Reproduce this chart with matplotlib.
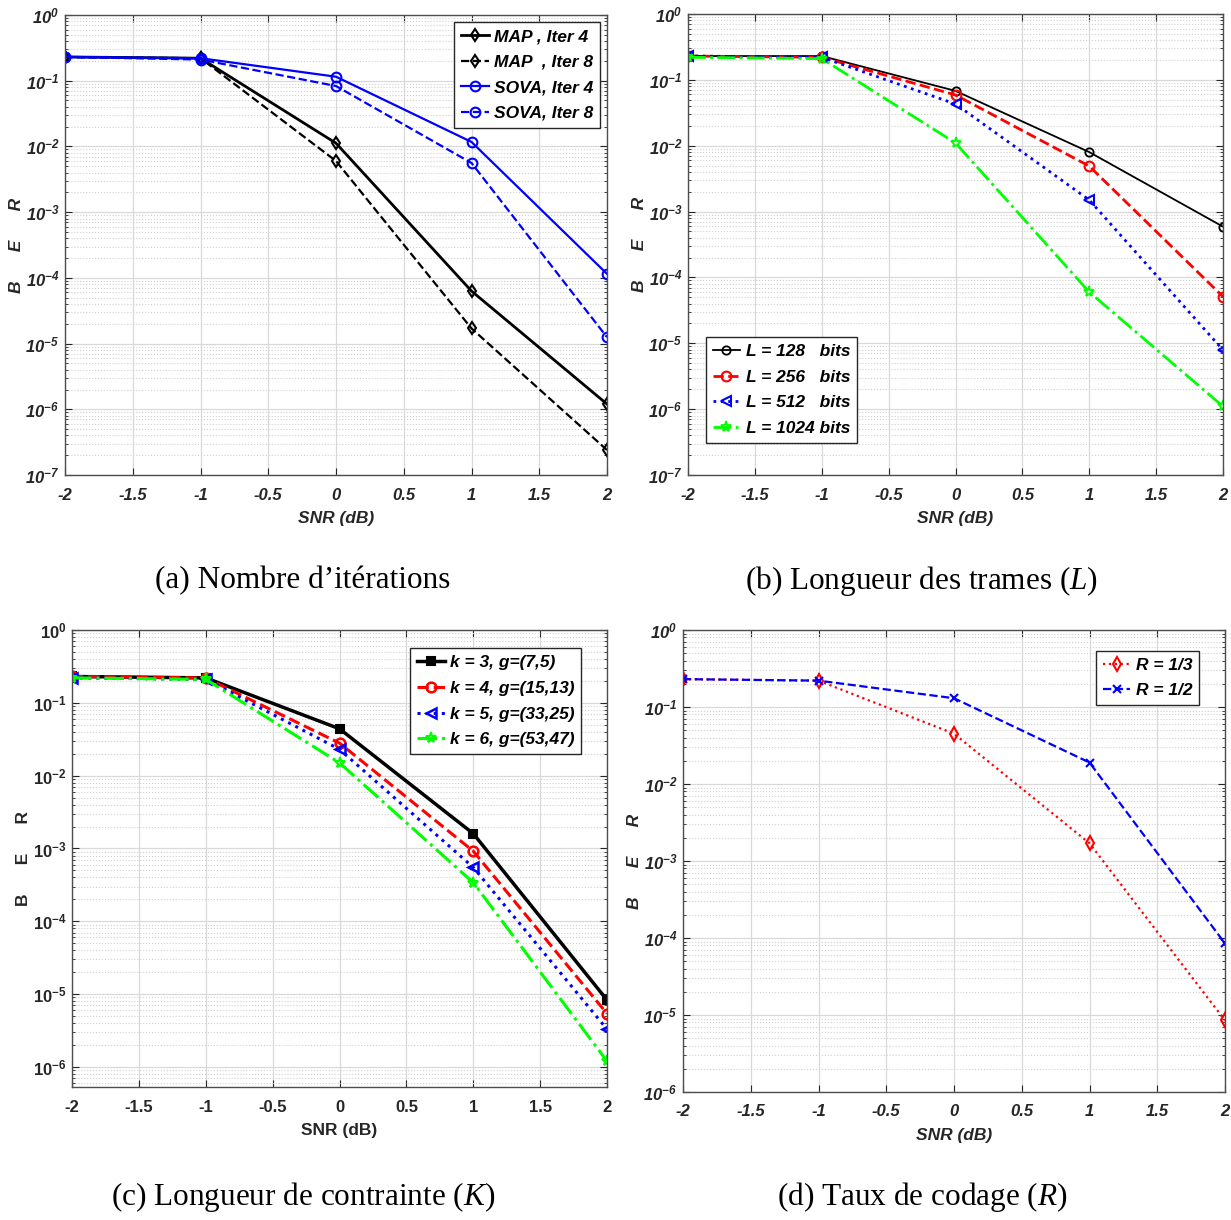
import numpy as np
import matplotlib.pyplot as plt
from matplotlib.ticker import FuncFormatter, FixedLocator, NullFormatter
from matplotlib.font_manager import FontProperties

# Réglages des polices
plt.rcParams['font.family'] = ['Liberation Sans', 'DejaVu Sans']
plt.rcParams['mathtext.fontset'] = 'custom'
plt.rcParams['mathtext.bf'] = 'Liberation Sans:bold'
plt.rcParams['mathtext.bfit'] = 'Liberation Sans:italic:bold'
plt.rcParams['mathtext.it'] = 'Liberation Serif:italic'
plt.rcParams['mathtext.rm'] = 'Liberation Serif'

# ---------------------------------------------------------------------------
# Données
snr = [-2, -1, 0, 1, 2]

# (a) Nombre d'itérations
ber_map_it4 = [0.23, 0.22, 1.12e-2, 6.3e-5, 1.2e-6]
ber_map_it8 = [0.23, 0.22, 6.0e-3, 1.7e-5, 2.4e-7]
ber_sova_it4 = [0.23, 0.22, 0.115, 1.17e-2, 1.15e-4]
ber_sova_it8 = [0.23, 0.21, 0.083, 5.6e-3, 1.25e-5]
labels_a = ['MAP , Iter 4', 'MAP  , Iter 8', 'SOVA, Iter 4', 'SOVA, Iter 8']

# (b) Longueur des trames
ber_l128 = [0.23, 0.23, 0.068, 8.0e-3, 5.9e-4]
ber_l256 = [0.23, 0.22, 0.059, 4.9e-3, 5.1e-5]
ber_l512 = [0.23, 0.22, 0.043, 1.5e-3, 7.9e-6]
ber_l1024 = [0.22, 0.21, 0.011, 6.0e-5, 1.1e-6]
labels_b = ['L = 128   bits', 'L = 256   bits', 'L = 512   bits', 'L = 1024 bits']

# (c) Longueur de contrainte
ber_k3 = [0.23, 0.22, 0.044, 1.6e-3, 8.3e-6]
ber_k4 = [0.23, 0.22, 0.028, 9.2e-4, 5.4e-6]
ber_k5 = [0.22, 0.21, 0.023, 5.5e-4, 3.3e-6]
ber_k6 = [0.22, 0.21, 0.015, 3.4e-4, 1.2e-6]
labels_c = ['k = 3, g=(7,5)', 'k = 4, g=(15,13)', 'k = 5, g=(33,25)', 'k = 6, g=(53,47)']

# (d) Taux de codage
ber_r13 = [0.23, 0.22, 0.045, 1.7e-3, 8.5e-6]
ber_r12 = [0.23, 0.22, 0.13, 0.019, 8.5e-5]
labels_d = ['R = 1/3', 'R = 1/2']

captions = ["(a) Nombre d\u2019itérations", "(b) Longueur des trames ($L$)",
            "(c) Longueur de contrainte ($K$)", "(d) Taux de codage ($R$)"]
# ---------------------------------------------------------------------------

W, H = 1231, 1220
fig = plt.figure(figsize=(W / 100, H / 100), dpi=100)


def px_axes(left, top, right, bottom):
    return fig.add_axes([left / W, 1 - bottom / H, (right - left) / W, (bottom - top) / H])


txt_col = '#262626'


def style(ax, ylim, italic=True):
    ax.set_yscale('log')
    ax.set_xlim(-2, 2)
    ax.set_ylim(*ylim)
    ax.set_xticks(np.arange(-2, 2.01, 0.5))
    ax.set_xticklabels([f'{v:g}' for v in np.arange(-2, 2.01, 0.5)])
    # seulement les décades visibles
    lo = int(np.ceil(np.log10(ylim[0]) - 1e-9))
    dec = np.arange(lo, 1)
    ax.yaxis.set_major_locator(FixedLocator(10.0 ** dec))
    minors = [m * 10.0 ** d for d in range(lo - 1, 0) for m in range(2, 10)
              if ylim[0] <= m * 10.0 ** d <= ylim[1]]
    ax.yaxis.set_minor_locator(FixedLocator(minors))
    ax.yaxis.set_minor_formatter(NullFormatter())
    cmd = r'\mathbfit' if italic else r'\mathbf'
    ax.yaxis.set_major_formatter(FuncFormatter(
        lambda v, p: r'$%s{10^{%d}}$' % (cmd, int(round(np.log10(v))))))
    st = 'italic' if italic else 'normal'
    for lab in ax.get_xticklabels():
        lab.set_fontweight('bold')
        lab.set_fontstyle(st)
    ax.tick_params(axis='both', which='both', direction='in', top=True, right=True,
                   colors=txt_col, labelsize=12)
    ax.tick_params(axis='x', pad=9)
    ax.tick_params(axis='y', pad=4)
    ax.tick_params(which='major', length=5)
    ax.tick_params(which='minor', length=2.5)
    ax.grid(True, which='major', color='#d9d9d9', linewidth=0.9)
    ax.grid(True, which='minor', axis='y', color='#d0d0d0', linestyle=':', linewidth=0.8)
    ax.set_axisbelow(True)
    for s in ax.spines.values():
        s.set_color('#4d4d4d')
        s.set_linewidth(1.0)
    ax.set_xlabel('SNR (dB)', fontsize=12.5, fontweight='bold', fontstyle=st, color=txt_col, labelpad=6)
    ax.set_ylabel('B      E      R', fontsize=12.5, fontweight='bold', fontstyle=st, color=txt_col, labelpad=1)


def legend(ax, loc, anchor=None):
    prop = FontProperties(family='Liberation Sans', weight='bold', style='italic', size=12.5)
    kw = dict(loc=loc, prop=prop, fancybox=False, edgecolor=txt_col, framealpha=1,
              handlelength=1.6, handletextpad=0.3, borderpad=0.4, labelspacing=0.6,
              borderaxespad=0.4)
    if anchor is not None:
        kw['bbox_to_anchor'] = anchor
    leg = ax.legend(**kw)
    leg.get_frame().set_linewidth(1.0)
    for t in leg.get_texts():
        t.set_color('black')


# (a)
ax = px_axes(65, 15, 607, 475)
ax.plot(snr, ber_map_it4, color='black', linestyle='-', linewidth=2, marker='d', mfc='none', ms=6, mew=1.5, label=labels_a[0])
ax.plot(snr, ber_map_it8, color='black', linestyle='--', linewidth=1.6, marker='d', mfc='none', ms=6, mew=1.5, label=labels_a[1])
ax.plot(snr, ber_sova_it4, color='blue', linestyle='-', linewidth=1.6, marker='o', mfc='none', ms=7, mew=1.5, label=labels_a[2])
ax.plot(snr, ber_sova_it8, color='blue', linestyle='--', linewidth=1.6, marker='o', mfc='none', ms=7, mew=1.5, label=labels_a[3])
style(ax, (1e-7, 1))
legend(ax, 'upper right')

# (b)
ax = px_axes(688, 14, 1223, 475)
ax.plot(snr, ber_l128, color='black', linestyle='-', linewidth=1.3, marker='o', mfc='none', ms=6, mew=1.3, label=labels_b[0])
ax.plot(snr, ber_l256, color='red', linestyle='--', linewidth=2, marker='o', mfc='none', ms=7, mew=1.5, label=labels_b[1])
ax.plot(snr, ber_l512, color='blue', linestyle=':', linewidth=2, marker='<', mfc='none', ms=7, mew=1.5, label=labels_b[2])
ax.plot(snr, ber_l1024, color='#00ff00', linestyle='-.', linewidth=2, marker='*', mfc='none', ms=8, mew=1.3, label=labels_b[3])
style(ax, (1e-7, 1))
legend(ax, 'lower left', anchor=(0.02, 0.055))

# (c)
ax = px_axes(72, 630, 607, 1087)
ax.plot(snr, ber_k3, color='black', linestyle='-', linewidth=2.5, marker='s', mfc='black', ms=6, mew=1.5, label=labels_c[0])
ax.plot(snr, ber_k4, color='red', linestyle='--', linewidth=2.2, marker='o', mfc='none', ms=7, mew=1.8, label=labels_c[1])
ax.plot(snr, ber_k5, color='blue', linestyle=':', linewidth=2.2, marker='<', mfc='none', ms=7, mew=1.8, label=labels_c[2])
ax.plot(snr, ber_k6, color='#00ff00', linestyle='-.', linewidth=2.2, marker='*', mfc='none', ms=8, mew=1.5, label=labels_c[3])
style(ax, (5.3e-7, 1), italic=False)
legend(ax, 'upper right', anchor=(0.965, 0.975))

# (d)
ax = px_axes(683, 630, 1225, 1092)
ax.plot(snr, ber_r13, color='red', linestyle=':', linewidth=1.6, marker='d', mfc='none', ms=7, mew=1.5, label=labels_d[0])
ax.plot(snr, ber_r12, color='blue', linestyle='--', linewidth=1.6, marker='x', ms=6, mew=1.5, label=labels_d[1])
style(ax, (1e-6, 1))
legend(ax, 'upper right', anchor=(0.965, 0.97))

# Légendes des sous-figures
cap_pos = [(303, 581), (922, 581), (303, 1197), (922, 1197)]
for (cx, cy), cap in zip(cap_pos, captions):
    fig.text(cx / W, 1 - cy / H, cap, ha='center', va='center', fontsize=22.5,
             family='Liberation Serif', color='black')

fig.savefig('out.png', dpi=100)
